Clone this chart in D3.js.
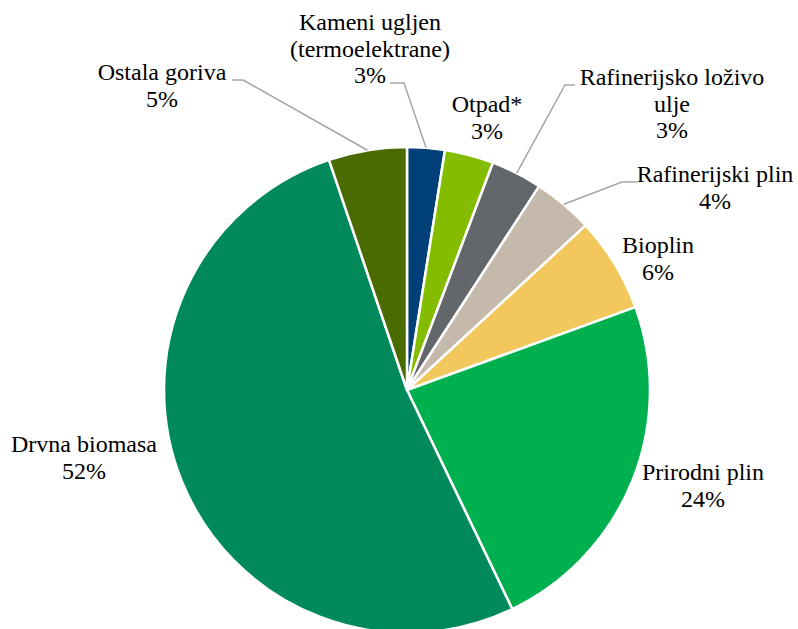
<!DOCTYPE html>
<html>
<head>
<meta charset="utf-8">
<script src="https://cdn.jsdelivr.net/npm/d3@7"></script>
</head>
<body style="margin:0">
<script>
let width = 798;
let height = 629;

// data (clockwise from 12 o'clock)
let categories = ["Kameni ugljen\n(termoelektrane)", "Otpad*", "Rafinerijsko loživo\nulje", "Rafinerijski plin", "Bioplin", "Prirodni plin", "Drvna biomasa", "Ostala goriva"];
let values = [2.5, 3.25, 3.4, 4.0, 6.3, 23.4, 51.9, 5.2];
let pctLabels = ["3%", "3%", "3%", "4%", "6%", "24%", "52%", "5%"];
let colors = ["#003f77", "#84bd00", "#63666a", "#c4b9ab", "#f2c75c", "#00b04f", "#008a5b", "#4a6b00"];

// label placement: centre x, first baseline y, leader start (null = no leader)
let labelPos = [
  { x: 370, y: 30, lead: [390, 83, 404] },
  { x: 487, y: 112, lead: null },
  { x: 672, y: 85, lead: [575, 85, 565] },
  { x: 715, y: 182, lead: [637, 182, 622] },
  { x: 658, y: 253, lead: null },
  { x: 703, y: 480, lead: null },
  { x: 84, y: 452, lead: null },
  { x: 162, y: 80, lead: [232, 80, 243] }
];

let cx = 407, cy = 390, radius = 243;
let lineH = 26.5;

let svg = d3.select("body").append("svg")
  .attr("width", width)
  .attr("height", height);

let g = svg.append("g").attr("transform", "translate(" + cx + "," + cy + ")");

let pie = d3.pie().sort(null).value(function(d) { return d; });
let arcs = pie(values);
let arc = d3.arc().innerRadius(0).outerRadius(radius);

g.selectAll("path.slice")
  .data(arcs)
  .enter()
  .append("path")
  .attr("class", "slice")
  .attr("d", arc)
  .attr("fill", function(d, i) { return colors[i]; })
  .attr("stroke", "#fff")
  .attr("stroke-width", 2.5)
  .attr("stroke-linejoin", "round");

// leader lines
arcs.forEach(function(d, i) {
  let p = labelPos[i];
  if (!p.lead) return;
  let mid = (d.startAngle + d.endAngle) / 2;
  let ex = cx + radius * Math.sin(mid);
  let ey = cy - radius * Math.cos(mid);
  svg.append("polyline")
    .attr("points", [[p.lead[0], p.lead[1]], [p.lead[2], p.lead[1]], [ex, ey]].map(function(q) { return q.join(","); }).join(" "))
    .attr("fill", "none")
    .attr("stroke", "#a6a6a6")
    .attr("stroke-width", 1.5);
});

// labels
categories.forEach(function(c, i) {
  let p = labelPos[i];
  let lines = c.split("\n").concat([pctLabels[i]]);
  lines.forEach(function(l, j) {
    svg.append("text")
      .attr("x", p.x)
      .attr("y", p.y + j * lineH)
      .attr("font-size", 24)
      .attr("font-family", "Liberation Serif")
      .attr("text-anchor", "middle")
      .text(l);
  });
});
</script>
</body>
</html>
